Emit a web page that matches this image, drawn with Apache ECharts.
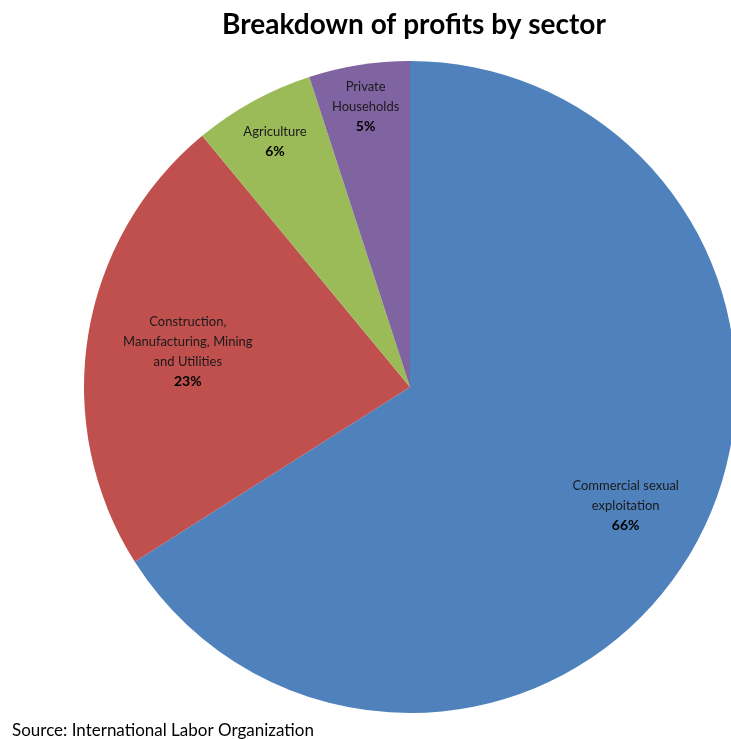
<!DOCTYPE html>
<html>
<head>
<meta charset="utf-8">
<script src="https://cdn.jsdelivr.net/npm/echarts@6/dist/echarts.min.js"></script>
<style>
  html, body { margin: 0; padding: 0; background: #fff; }
  #chart { width: 731px; height: 739px; }
</style>
</head>
<body>
<div id="chart"></div>
<script>
// Sector names (label lines) and their share of profits, in percent
const sectors = [
  'Commercial sexual\nexploitation',
  'Construction,\nManufacturing, Mining\nand Utilities',
  'Agriculture',
  'Private\nHouseholds'
];
const shares = [66, 23, 6, 5];
const colors = ['#4F81BD', '#C0504D', '#9BBB59', '#8064A2'];

// Pie geometry and how far out (fraction of radius) each label sits
const center = [410, 387];
const radius = 326;
const labelRadiusRatio = [0.755, 0.69, 0.86, 0.87];

const total = shares.reduce((a, b) => a + b, 0);
const midAngles = [];
let acc = 0;
shares.forEach(v => {
  midAngles.push((acc + v / 2) / total * 2 * Math.PI);
  acc += v;
});

const chart = echarts.init(document.getElementById('chart'), null, { renderer: 'canvas' });
chart.setOption({
  animation: false,
  backgroundColor: '#ffffff',
  title: [{
    text: 'Breakdown of profits by sector',
    left: 409,
    top: 6,
    textAlign: 'center',
    textStyle: { fontFamily: 'Lato', fontWeight: 'bold', fontSize: 28, color: '#000' }
  }, {
    text: 'Source: International Labor Organization',
    left: 7,
    top: 717,
    textStyle: { fontFamily: 'Lato', fontWeight: 'normal', fontSize: 17, color: '#000' }
  }],
  series: [{
    type: 'pie',
    center: center,
    radius: radius,
    startAngle: 90,
    clockwise: true,
    data: sectors.map((name, i) => ({ name: name, value: shares[i], itemStyle: { color: colors[i] } })),
    itemStyle: { borderWidth: 0 },
    label: {
      show: true,
      position: 'inside',
      formatter: p => '{n|' + p.name.split('\n').join('}\n{n|') + '}\n{p|' + p.value + '%}',
      rich: {
        n: { fontFamily: 'Lato', fontSize: 13, color: '#1a1a1a', lineHeight: 20, align: 'center' },
        p: { fontFamily: 'Lato', fontSize: 14, fontWeight: 'bold', color: '#000', lineHeight: 20, align: 'center' }
      }
    },
    labelLayout: p => {
      const i = p.dataIndex;
      const r = radius * labelRadiusRatio[i];
      const a = midAngles[i];
      return {
        x: center[0] + r * Math.sin(a),
        y: center[1] - r * Math.cos(a),
        align: 'center',
        verticalAlign: 'middle'
      };
    },
    emphasis: { disabled: true }
  }]
});
</script>
</body>
</html>
